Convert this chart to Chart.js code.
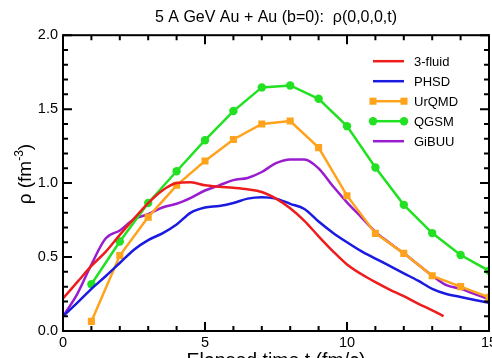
<!DOCTYPE html>
<html lang="en"><head>
<title>Au+Au central density</title>
<style>
* { margin: 0; padding: 0 }
html, body { overflow: hidden; background: #fff; }
#DensityChart { display: block; }
</style>
<script src="https://cdn.jsdelivr.net/npm/chart.js"></script>
<script>

// elapsed time t (fm/c) and central baryon density rho(0,0,0,t) in fm^-3
const T_FLUID = [0, 0.5, 1, 1.5, 2, 2.5, 3, 3.5, 4, 4.5, 5, 5.5, 6, 6.5, 7, 7.5,
                 8, 8.5, 9, 9.5, 10, 10.5, 11, 11.5, 12, 12.5, 13, 13.4];
const RHO_FLUID = [0.22, 0.33, 0.44, 0.535, 0.65, 0.76, 0.865, 0.95, 1.0, 1.005, 0.985, 0.975,
                   0.968, 0.958, 0.94, 0.895, 0.83, 0.745, 0.64, 0.54, 0.45, 0.385, 0.33,
                   0.28, 0.235, 0.185, 0.14, 0.10];

const T_HALF = [0, 0.5, 1, 1.5, 2, 2.5, 3, 3.5, 4, 4.5, 5, 5.5, 6, 6.5, 7, 7.5,
                8, 8.5, 9, 9.5, 10, 10.5, 11, 11.5, 12, 12.5, 13, 13.5, 14, 14.5, 15];
const RHO_PHSD = [0.10, 0.19, 0.285, 0.37, 0.46, 0.55, 0.615, 0.66, 0.72, 0.80, 0.835, 0.845,
                  0.865, 0.895, 0.905, 0.895, 0.86, 0.825, 0.74, 0.665, 0.60, 0.54, 0.49,
                  0.44, 0.39, 0.34, 0.285, 0.25, 0.23, 0.21, 0.19];
const RHO_GIBUU = [0.10, 0.25, 0.45, 0.625, 0.68, 0.755, 0.79, 0.835, 0.86, 0.90, 0.95, 0.985,
                   1.02, 1.035, 1.075, 1.135, 1.16, 1.16, 1.10, 0.98, 0.87, 0.77, 0.67,
                   0.595, 0.525, 0.45, 0.375, 0.31, 0.285, 0.25, 0.215];

const T_INT = [1, 2, 3, 4, 5, 6, 7, 8, 9, 10, 11, 12, 13, 14, 15];
const RHO_URQMD = [0.065, 0.51, 0.77, 0.985, 1.15, 1.295, 1.40, 1.42, 1.24, 0.915, 0.66,
                   0.525, 0.373, 0.30, 0.228];
const RHO_QGSM = [0.316, 0.605, 0.866, 1.08, 1.29, 1.487, 1.647, 1.66, 1.57, 1.385, 1.105,
                  0.853, 0.662, 0.514, 0.407];

const X_MIN = 0, X_MAX = 15;
const Y_MIN = 0, Y_MAX = 2;

const FONT = '"Liberation Sans", Arial, Helvetica, sans-serif';

function get(id) {
    return document.getElementById(id);
}

function pairs(xs, ys) {
    return xs.map((x, i) => ({ x: x, y: ys[i] }));
}

// closed frame with inward ticks on all four sides
const frameTicks = {
    id: 'frameTicks',
    afterDatasetsDraw(chart) {
        const { ctx, chartArea: a, scales: { x, y } } = chart;
        ctx.save();
        ctx.strokeStyle = '#000';
        ctx.lineWidth = 2;
        ctx.beginPath();
        for (let t = X_MIN; t <= X_MAX; t++) {
            const px = x.getPixelForValue(t);
            const len = t % 5 === 0 ? 9 : 5;
            ctx.moveTo(px, a.bottom); ctx.lineTo(px, a.bottom - len);
            ctx.moveTo(px, a.top); ctx.lineTo(px, a.top + len);
        }
        for (let i = 0; i <= 20; i++) {
            const py = y.getPixelForValue(i / 10);
            const len = i % 5 === 0 ? 9 : 5;
            ctx.moveTo(a.left, py); ctx.lineTo(a.left + len, py);
            ctx.moveTo(a.right, py); ctx.lineTo(a.right - len, py);
        }
        ctx.stroke();
        ctx.strokeRect(a.left, a.top, a.right - a.left, a.bottom - a.top);
        ctx.restore();
    }
};

// rotated y title with a real superscript
const yTitle = {
    id: 'yTitle',
    afterDraw(chart) {
        const ctx = chart.ctx;
        const main = 'ρ (fm', sup = '-3', tail = ')';
        ctx.save();
        ctx.fillStyle = '#000';
        ctx.textBaseline = 'alphabetic';
        ctx.font = '19px ' + FONT;
        const w1 = ctx.measureText(main).width;
        const w3 = ctx.measureText(tail).width;
        ctx.font = '12px ' + FONT;
        const w2 = ctx.measureText(sup).width;
        const a = chart.chartArea;
        ctx.translate(31, (a.top + a.bottom) / 2 - 9);
        ctx.rotate(-Math.PI / 2);
        let x = -(w1 + w2 + w3) / 2;
        ctx.font = '19px ' + FONT;
        ctx.fillText(main, x, 0);
        x += w1;
        ctx.font = '12px ' + FONT;
        ctx.fillText(sup, x, -8);
        x += w2;
        ctx.font = '19px ' + FONT;
        ctx.fillText(tail, x, 0);
        ctx.restore();
    }
};

function drawMarker(ctx, ds, px, py) {
    if (!ds.pointRadius) return;
    ctx.fillStyle = ds.backgroundColor;
    if (ds.pointStyle === 'rect') {
        const s = ds.pointRadius * Math.SQRT2;
        ctx.fillRect(px - s / 2, py - s / 2, s, s);
    } else {
        ctx.beginPath();
        ctx.arc(px, py, ds.pointRadius, 0, Math.PI * 2);
        ctx.fill();
    }
}

// legend inside the upper right of the plot
const modelLegend = {
    id: 'modelLegend',
    afterDatasetsDraw(chart) {
        const { ctx, chartArea: a } = chart;
        const x0 = a.right - 116, x1 = a.right - 85;
        let y = a.top + 26;
        ctx.save();
        ctx.font = '13px ' + FONT;
        ctx.textBaseline = 'middle';
        chart.data.datasets.forEach(ds => {
            ctx.strokeStyle = ds.borderColor;
            ctx.lineWidth = 2.5;
            ctx.beginPath();
            ctx.moveTo(x0, y);
            ctx.lineTo(x1, y);
            ctx.stroke();
            drawMarker(ctx, ds, x0, y);
            drawMarker(ctx, ds, x1, y);
            ctx.fillStyle = '#000';
            ctx.fillText(ds.label, x1 + 10, y + 1);
            y += 20;
        });
        ctx.restore();
    }
};

function smoothLine(label, color, xs, ys) {
    return {
        label: label,
        data: pairs(xs, ys),
        borderColor: color,
        backgroundColor: color,
        borderWidth: 2.5,
        pointRadius: 0,
        cubicInterpolationMode: 'monotone',
    };
}

function markedLine(label, color, ys, style, radius) {
    return {
        label: label,
        data: pairs(T_INT, ys),
        borderColor: color,
        backgroundColor: color,
        borderWidth: 2.5,
        pointStyle: style,
        pointRadius: radius,
        pointBorderWidth: 0,
        tension: 0,
    };
}

function bodyOnLoad() {
    new Chart(get('DensityChart'), {
        type: 'line',
        data: {
            datasets: [
                smoothLine('3-fluid', '#ee1c1c', T_FLUID, RHO_FLUID),
                smoothLine('PHSD', '#1a1ae0', T_HALF, RHO_PHSD),
                markedLine('UrQMD', '#ffa21c', RHO_URQMD, 'rect', 5),
                markedLine('QGSM', '#22e022', RHO_QGSM, 'circle', 4.2),
                smoothLine('GiBUU', '#9a1ccf', T_HALF, RHO_GIBUU),
            ],
        },
        options: {
            responsive: false,
            animation: false,
            layout: { padding: { left: 0, right: 41, top: 0, bottom: 0 } },
            plugins: {
                legend: { display: false },
                tooltip: { enabled: false },
                title: {
                    display: true,
                    fullSize: false,
                    text: '5 A GeV Au + Au (b=0):  ρ(0,0,0,t)',
                    color: '#000',
                    font: { family: FONT, size: 16, weight: 'normal' },
                    padding: { top: 8, bottom: 8 },
                },
            },
            scales: {
                x: {
                    type: 'linear',
                    min: X_MIN,
                    max: X_MAX,
                    afterFit: s => { s.height = 50; },
                    grid: { display: false, drawTicks: false },
                    border: { display: false },
                    ticks: {
                        stepSize: 5,
                        padding: 3,
                        color: '#000',
                        font: { family: FONT, size: 14.5 },
                    },
                    title: {
                        display: true,
                        text: 'Elapsed time t (fm/c)',
                        color: '#000',
                        font: { family: FONT, size: 19.5 },
                        padding: { top: 0, bottom: 8 },
                    },
                },
                y: {
                    min: Y_MIN,
                    max: Y_MAX,
                    afterFit: s => { s.width = 63; },
                    grid: { display: false, drawTicks: false },
                    border: { display: false },
                    ticks: {
                        stepSize: 0.5,
                        padding: 5,
                        color: '#000',
                        font: { family: FONT, size: 14.5 },
                        callback: v => v.toFixed(1),
                    },
                },
            },
        },
        plugins: [frameTicks, modelLegend, yTitle],
    });
}

</script>
</head><body onload="bodyOnLoad()">
<canvas id="DensityChart" width="530" height="381"></canvas>
</body></html>
